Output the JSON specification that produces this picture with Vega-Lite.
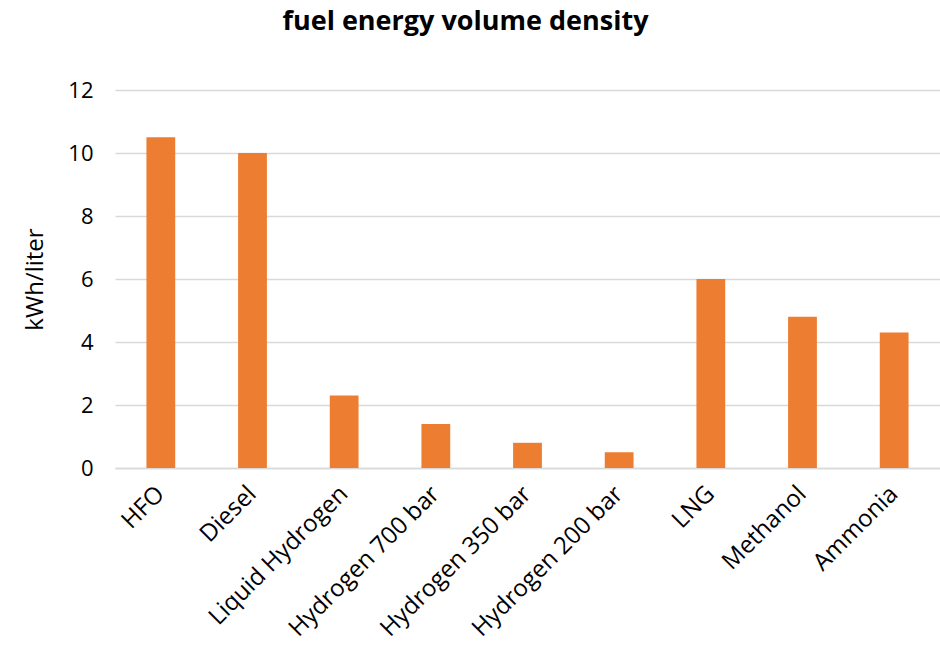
{
  "$schema": "https://vega.github.io/schema/vega-lite/v6.json",
  "width": 825,
  "height": 378,
  "autosize": {"type": "none"},
  "padding": {"left": 115, "top": 90, "right": 0, "bottom": 191},
  "background": "white",
  "title": {
    "text": "fuel energy volume density",
    "font": "Open Sans",
    "fontSize": 27,
    "fontWeight": "bold",
    "color": "#000000",
    "anchor": "middle",
    "frame": "group",
    "dx": -62,
    "offset": 43
  },
  "data": {
    "values": [
      {"fuel": "HFO", "value": 10.5},
      {"fuel": "Diesel", "value": 10.0},
      {"fuel": "Liquid Hydrogen", "value": 2.3},
      {"fuel": "Hydrogen 700 bar", "value": 1.4},
      {"fuel": "Hydrogen 350 bar", "value": 0.8},
      {"fuel": "Hydrogen 200 bar", "value": 0.5},
      {"fuel": "LNG", "value": 6.0},
      {"fuel": "Methanol", "value": 4.8},
      {"fuel": "Ammonia", "value": 4.3}
    ]
  },
  "mark": {"type": "bar", "color": "#ED7D31"},
  "encoding": {
    "x": {
      "field": "fuel",
      "type": "nominal",
      "sort": null,
      "scale": {"paddingInner": 0.686, "paddingOuter": 0.343},
      "axis": {
        "title": null,
        "labelAngle": -45,
        "labelAlign": "right",
        "labelBaseline": "middle",
        "labelFont": "Open Sans",
        "labelFontSize": 24,
        "labelColor": "#000000",
        "labelPadding": 22,
        "ticks": false,
        "domain": true,
        "domainColor": "#d9d9d9",
        "domainWidth": 1.5,
        "grid": false,
        "labelOverlap": false,
        "labelLimit": 300
      }
    },
    "y": {
      "field": "value",
      "type": "quantitative",
      "scale": {"domain": [0, 12], "nice": false},
      "axis": {
        "title": "kWh/liter",
        "titleFont": "Open Sans",
        "titleFontSize": 24,
        "titleFontWeight": "normal",
        "titleColor": "#000000",
        "titlePadding": 20,
        "values": [0, 2, 4, 6, 8, 10, 12],
        "labelFont": "Open Sans",
        "labelFontSize": 22,
        "labelColor": "#000000",
        "labelPadding": 22,
        "ticks": false,
        "domain": false,
        "grid": true,
        "gridColor": "#d9d9d9",
        "gridWidth": 1.5
      }
    }
  },
  "config": {"view": {"stroke": null}}
}
